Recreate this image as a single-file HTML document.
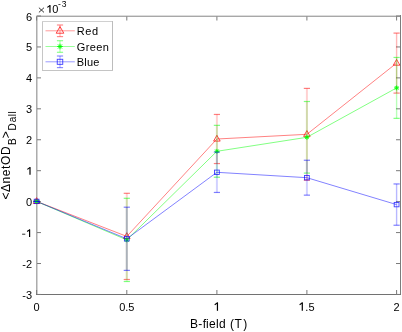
<!DOCTYPE html>
<html><head><meta charset="utf-8"><style>
html,body{margin:0;padding:0;background:#fff;width:402px;height:332px;overflow:hidden;}
svg{display:block;font-family:"Liberation Sans",sans-serif;will-change:transform;}
</style></head><body>
<svg width="402" height="332" viewBox="0 0 402 332">
<rect width="402" height="332" fill="#fff"/>
<rect x="36" y="15" width="1" height="280" fill="#acacac"/>
<rect x="37" y="16" width="1" height="278" fill="#d4d4d4"/>
<rect x="36" y="15" width="365" height="1" fill="#dcdcdc"/>
<rect x="36" y="16" width="365" height="1" fill="#a8a8a8"/>
<rect x="400" y="15" width="1" height="280" fill="#7c7c7c"/>
<rect x="36" y="294" width="365" height="1" fill="#727272"/>
<path d="M36.60,294v-4M36.60,16.5v4M126.80,294v-4M126.80,16.5v4M216.90,294v-4M216.90,16.5v4M306.90,294v-4M306.90,16.5v4M396.60,294v-4M396.60,16.5v4M37,294.46h4M400,294.46h-4M37,263.52h4M400,263.52h-4M37,232.58h4M400,232.58h-4M37,201.64h4M400,201.64h-4M37,170.70h4M400,170.70h-4M37,139.76h4M400,139.76h-4M37,108.82h4M400,108.82h-4M37,77.88h4M400,77.88h-4M37,46.94h4M400,46.94h-4M37,16.00h4M400,16.00h-4" stroke="#7a7a7a" stroke-width="1" fill="none"/>
<g><line x1="33.50" y1="201.40" x2="39.70" y2="201.40" stroke="rgba(255,0,0,0.5)" stroke-width="1.2"/><line x1="33.50" y1="201.40" x2="39.70" y2="201.40" stroke="rgba(255,0,0,0.5)" stroke-width="1.2"/><line x1="126.80" y1="193.30" x2="126.80" y2="279.50" stroke="rgba(255,0,0,0.18)" stroke-width="2"/><line x1="123.70" y1="193.30" x2="129.90" y2="193.30" stroke="rgba(255,0,0,0.5)" stroke-width="1.2"/><line x1="123.70" y1="279.50" x2="129.90" y2="279.50" stroke="rgba(255,0,0,0.5)" stroke-width="1.2"/><line x1="216.90" y1="114.45" x2="216.90" y2="163.55" stroke="rgba(255,0,0,0.18)" stroke-width="2"/><line x1="213.80" y1="114.45" x2="220.00" y2="114.45" stroke="rgba(255,0,0,0.5)" stroke-width="1.2"/><line x1="213.80" y1="163.55" x2="220.00" y2="163.55" stroke="rgba(255,0,0,0.5)" stroke-width="1.2"/><line x1="306.90" y1="88.40" x2="306.90" y2="180.20" stroke="rgba(255,0,0,0.18)" stroke-width="2"/><line x1="303.80" y1="88.40" x2="310.00" y2="88.40" stroke="rgba(255,0,0,0.5)" stroke-width="1.2"/><line x1="303.80" y1="180.20" x2="310.00" y2="180.20" stroke="rgba(255,0,0,0.5)" stroke-width="1.2"/><line x1="396.60" y1="33.10" x2="396.60" y2="93.10" stroke="rgba(255,0,0,0.28)" stroke-width="1.4"/><line x1="393.50" y1="33.10" x2="399.70" y2="33.10" stroke="rgba(255,0,0,0.5)" stroke-width="1.2"/><line x1="393.50" y1="93.10" x2="399.70" y2="93.10" stroke="rgba(255,0,0,0.5)" stroke-width="1.2"/><polyline points="36.60,201.40 126.80,236.40 216.90,139.00 306.90,134.30 396.60,63.10" fill="none" stroke="rgba(255,0,0,0.62)" stroke-width="0.8"/><path d="M36.60,197.70L39.90,203.50L33.30,203.50Z" fill="none" stroke="rgba(255,0,0,0.8)" stroke-width="0.9"/><path d="M126.80,232.70L130.10,238.50L123.50,238.50Z" fill="none" stroke="rgba(255,0,0,0.8)" stroke-width="0.9"/><path d="M216.90,135.30L220.20,141.10L213.60,141.10Z" fill="none" stroke="rgba(255,0,0,0.8)" stroke-width="0.9"/><path d="M306.90,130.60L310.20,136.40L303.60,136.40Z" fill="none" stroke="rgba(255,0,0,0.8)" stroke-width="0.9"/><path d="M396.60,59.40L399.90,65.20L393.30,65.20Z" fill="none" stroke="rgba(255,0,0,0.8)" stroke-width="0.9"/></g>
<g><line x1="33.50" y1="201.40" x2="39.70" y2="201.40" stroke="rgba(0,255,0,0.5)" stroke-width="1.2"/><line x1="33.50" y1="201.40" x2="39.70" y2="201.40" stroke="rgba(0,255,0,0.5)" stroke-width="1.2"/><line x1="126.80" y1="198.30" x2="126.80" y2="281.50" stroke="rgba(0,255,0,0.18)" stroke-width="2"/><line x1="123.70" y1="198.30" x2="129.90" y2="198.30" stroke="rgba(0,255,0,0.5)" stroke-width="1.2"/><line x1="123.70" y1="281.50" x2="129.90" y2="281.50" stroke="rgba(0,255,0,0.5)" stroke-width="1.2"/><line x1="216.90" y1="125.35" x2="216.90" y2="177.25" stroke="rgba(0,255,0,0.18)" stroke-width="2"/><line x1="213.80" y1="125.35" x2="220.00" y2="125.35" stroke="rgba(0,255,0,0.5)" stroke-width="1.2"/><line x1="213.80" y1="177.25" x2="220.00" y2="177.25" stroke="rgba(0,255,0,0.5)" stroke-width="1.2"/><line x1="306.90" y1="101.50" x2="306.90" y2="173.10" stroke="rgba(0,255,0,0.18)" stroke-width="2"/><line x1="303.80" y1="101.50" x2="310.00" y2="101.50" stroke="rgba(0,255,0,0.5)" stroke-width="1.2"/><line x1="303.80" y1="173.10" x2="310.00" y2="173.10" stroke="rgba(0,255,0,0.5)" stroke-width="1.2"/><line x1="396.60" y1="57.45" x2="396.60" y2="118.35" stroke="rgba(0,255,0,0.28)" stroke-width="1.4"/><line x1="393.50" y1="57.45" x2="399.70" y2="57.45" stroke="rgba(0,255,0,0.5)" stroke-width="1.2"/><line x1="393.50" y1="118.35" x2="399.70" y2="118.35" stroke="rgba(0,255,0,0.5)" stroke-width="1.2"/><polyline points="36.60,201.40 126.80,239.90 216.90,151.30 306.90,137.30 396.60,87.90" fill="none" stroke="rgba(0,255,0,0.62)" stroke-width="0.8"/><path d="M34.20,201.40h4.80M36.60,199.00v4.80M34.85,199.65l3.50,3.50M34.85,203.15l3.50,-3.50" stroke="rgba(0,255,0,0.95)" stroke-width="1"/><path d="M124.40,239.90h4.80M126.80,237.50v4.80M125.05,238.15l3.50,3.50M125.05,241.65l3.50,-3.50" stroke="rgba(0,255,0,0.95)" stroke-width="1"/><path d="M214.50,151.30h4.80M216.90,148.90v4.80M215.15,149.55l3.50,3.50M215.15,153.05l3.50,-3.50" stroke="rgba(0,255,0,0.95)" stroke-width="1"/><path d="M304.50,137.30h4.80M306.90,134.90v4.80M305.15,135.55l3.50,3.50M305.15,139.05l3.50,-3.50" stroke="rgba(0,255,0,0.95)" stroke-width="1"/><path d="M394.20,87.90h4.80M396.60,85.50v4.80M394.85,86.15l3.50,3.50M394.85,89.65l3.50,-3.50" stroke="rgba(0,255,0,0.95)" stroke-width="1"/></g>
<g><line x1="33.50" y1="201.40" x2="39.70" y2="201.40" stroke="rgba(0,0,255,0.5)" stroke-width="1.2"/><line x1="33.50" y1="201.40" x2="39.70" y2="201.40" stroke="rgba(0,0,255,0.5)" stroke-width="1.2"/><line x1="126.80" y1="207.20" x2="126.80" y2="270.40" stroke="rgba(0,0,255,0.18)" stroke-width="2"/><line x1="123.70" y1="207.20" x2="129.90" y2="207.20" stroke="rgba(0,0,255,0.5)" stroke-width="1.2"/><line x1="123.70" y1="270.40" x2="129.90" y2="270.40" stroke="rgba(0,0,255,0.5)" stroke-width="1.2"/><line x1="216.90" y1="152.15" x2="216.90" y2="192.45" stroke="rgba(0,0,255,0.18)" stroke-width="2"/><line x1="213.80" y1="152.15" x2="220.00" y2="152.15" stroke="rgba(0,0,255,0.5)" stroke-width="1.2"/><line x1="213.80" y1="192.45" x2="220.00" y2="192.45" stroke="rgba(0,0,255,0.5)" stroke-width="1.2"/><line x1="306.90" y1="160.25" x2="306.90" y2="195.15" stroke="rgba(0,0,255,0.18)" stroke-width="2"/><line x1="303.80" y1="160.25" x2="310.00" y2="160.25" stroke="rgba(0,0,255,0.5)" stroke-width="1.2"/><line x1="303.80" y1="195.15" x2="310.00" y2="195.15" stroke="rgba(0,0,255,0.5)" stroke-width="1.2"/><line x1="396.60" y1="183.95" x2="396.60" y2="225.25" stroke="rgba(0,0,255,0.28)" stroke-width="1.4"/><line x1="393.50" y1="183.95" x2="399.70" y2="183.95" stroke="rgba(0,0,255,0.5)" stroke-width="1.2"/><line x1="393.50" y1="225.25" x2="399.70" y2="225.25" stroke="rgba(0,0,255,0.5)" stroke-width="1.2"/><polyline points="36.60,201.40 126.80,238.80 216.90,172.30 306.90,177.70 396.60,204.60" fill="none" stroke="rgba(0,0,255,0.62)" stroke-width="0.8"/><rect x="34.20" y="199.20" width="4.80" height="4.40" fill="none" stroke="rgba(0,0,255,0.75)" stroke-width="0.9"/><rect x="124.40" y="236.60" width="4.80" height="4.40" fill="none" stroke="rgba(0,0,255,0.75)" stroke-width="0.9"/><rect x="214.50" y="170.10" width="4.80" height="4.40" fill="none" stroke="rgba(0,0,255,0.75)" stroke-width="0.9"/><rect x="304.50" y="175.50" width="4.80" height="4.40" fill="none" stroke="rgba(0,0,255,0.75)" stroke-width="0.9"/><rect x="394.20" y="202.40" width="4.80" height="4.40" fill="none" stroke="rgba(0,0,255,0.75)" stroke-width="0.9"/></g>
<text x="32.1" y="298.96" font-family="Liberation Sans, sans-serif" font-size="11" text-anchor="end" fill="#000">-3</text>
<text x="32.1" y="268.02" font-family="Liberation Sans, sans-serif" font-size="11" text-anchor="end" fill="#000">-2</text>
<path d="M29.60,229.40V237.00" stroke="#000" stroke-width="1.2" fill="none"/><path d="M29.80,229.70L27.10,231.50" stroke="#000" stroke-width="1.05" fill="none"/>
<rect x="22.1" y="233.7" width="3.2" height="1" fill="#333"/>
<text x="32.1" y="206.14" font-family="Liberation Sans, sans-serif" font-size="11" text-anchor="end" fill="#000">0</text>
<path d="M30.00,167.20V174.80" stroke="#000" stroke-width="1.2" fill="none"/><path d="M30.20,167.50L27.30,169.40" stroke="#000" stroke-width="1.05" fill="none"/>
<text x="32.1" y="144.26" font-family="Liberation Sans, sans-serif" font-size="11" text-anchor="end" fill="#000">2</text>
<text x="32.1" y="113.32" font-family="Liberation Sans, sans-serif" font-size="11" text-anchor="end" fill="#000">3</text>
<text x="32.1" y="82.38" font-family="Liberation Sans, sans-serif" font-size="11" text-anchor="end" fill="#000">4</text>
<text x="32.1" y="51.44" font-family="Liberation Sans, sans-serif" font-size="11" text-anchor="end" fill="#000">5</text>
<text x="32.1" y="20.50" font-family="Liberation Sans, sans-serif" font-size="11" text-anchor="end" fill="#000">6</text>
<text x="36.60" y="310.8" font-family="Liberation Sans, sans-serif" font-size="11" text-anchor="middle" fill="#000">0</text>
<text x="126.80" y="310.8" font-family="Liberation Sans, sans-serif" font-size="11" text-anchor="middle" fill="#000">0.5</text>
<path d="M217.45,302.50V310.80" stroke="#000" stroke-width="1.2" fill="none"/><path d="M217.65,302.80L214.70,304.70" stroke="#000" stroke-width="1.05" fill="none"/>
<path d="M302.30,302.50V310.80" stroke="#000" stroke-width="1.2" fill="none"/><path d="M302.50,302.80L299.60,304.70" stroke="#000" stroke-width="1.05" fill="none"/>
<text x="305.37" y="310.8" font-family="Liberation Sans, sans-serif" font-size="11" fill="#000">.5</text>
<text x="396.60" y="310.8" font-family="Liberation Sans, sans-serif" font-size="11" text-anchor="middle" fill="#000">2</text>
<path d="M38.9,7.7L44.0,12.4M38.9,12.4L44.0,7.7" stroke="#222" stroke-width="0.9" fill="none"/>
<path d="M49.95,5.20V12.70" stroke="#000" stroke-width="1.2" fill="none"/><path d="M50.15,5.50L47.30,7.40" stroke="#000" stroke-width="1.05" fill="none"/>
<text x="52.2" y="12.7" font-family="Liberation Sans, sans-serif" font-size="11" fill="#000">0</text>
<text x="58.0" y="7.2" font-family="Liberation Sans, sans-serif" font-size="8.5" fill="#000" textLength="8.6" lengthAdjust="spacing">-3</text>
<text x="190.0 198.3 202.7 205.9 209.0 216.1 219.1 225.8 230.1 234.5 243.2" y="327.6" font-family="Liberation Sans, sans-serif" font-size="12" fill="#000">B-field (T)</text>
<g transform="rotate(-90)">
<text x="-199.60 -192.00 -183.40 -176.20 -168.90 -165.00 -155.10" y="9.7" font-family="Liberation Sans, sans-serif" font-size="12" fill="#000">&lt;ΔnetOD</text>
<text x="-145.10" y="15.5" font-family="Liberation Sans, sans-serif" font-size="10" fill="#000">B</text>
<text x="-138.20" y="9.7" font-family="Liberation Sans, sans-serif" font-size="12" fill="#000">&gt;</text>
<text x="-130.40 -122.30 -116.20 -113.50" y="15.5" font-family="Liberation Sans, sans-serif" font-size="10" fill="#000">Dall</text>
</g>
<rect x="42" y="21" width="71" height="50" fill="#fff"/>
<rect x="42" y="21" width="1" height="50" fill="#c6c6c6"/>
<rect x="42" y="21" width="71" height="1" fill="#d0d0d0"/>
<rect x="42" y="22" width="71" height="0" fill="#e4e4e4"/>
<rect x="112" y="21" width="1" height="50" fill="#bcbcbc"/>
<rect x="42" y="70" width="71" height="1" fill="#c4c4c4"/>
<line x1="45.5" y1="30.8" x2="74.8" y2="30.8" stroke="rgba(255,0,0,0.4)" stroke-width="1"/>
<line x1="60" y1="25.00" x2="60" y2="36.60" stroke="rgba(255,0,0,0.3)" stroke-width="1.2"/>
<line x1="56.9" y1="25.00" x2="63.1" y2="25.00" stroke="rgba(255,0,0,0.45)" stroke-width="1.2"/>
<line x1="56.9" y1="36.60" x2="63.1" y2="36.60" stroke="rgba(255,0,0,0.45)" stroke-width="1.2"/>
<path d="M60.00,26.55L63.80,33.22L56.20,33.22Z" fill="none" stroke="rgba(255,0,0,0.8)" stroke-width="0.9"/>
<line x1="45.5" y1="46.5" x2="74.8" y2="46.5" stroke="rgba(0,255,0,0.4)" stroke-width="1"/>
<line x1="60" y1="40.70" x2="60" y2="52.30" stroke="rgba(0,255,0,0.3)" stroke-width="1.2"/>
<line x1="56.9" y1="40.70" x2="63.1" y2="40.70" stroke="rgba(0,255,0,0.45)" stroke-width="1.2"/>
<line x1="56.9" y1="52.30" x2="63.1" y2="52.30" stroke="rgba(0,255,0,0.45)" stroke-width="1.2"/>
<path d="M57.24,46.50h5.52M60.00,43.74v5.52M57.99,44.49l4.02,4.02M57.99,48.51l4.02,-4.02" stroke="rgba(0,255,0,0.95)" stroke-width="1"/>
<line x1="45.5" y1="61.8" x2="74.8" y2="61.8" stroke="rgba(0,0,255,0.4)" stroke-width="1"/>
<line x1="60" y1="56.00" x2="60" y2="67.60" stroke="rgba(0,0,255,0.3)" stroke-width="1.2"/>
<line x1="56.9" y1="56.00" x2="63.1" y2="56.00" stroke="rgba(0,0,255,0.45)" stroke-width="1.2"/>
<line x1="56.9" y1="67.60" x2="63.1" y2="67.60" stroke="rgba(0,0,255,0.45)" stroke-width="1.2"/>
<rect x="57.24" y="59.27" width="5.52" height="5.06" fill="none" stroke="rgba(0,0,255,0.75)" stroke-width="0.9"/>
<text x="76.7" y="35.2" font-family="Liberation Sans, sans-serif" font-size="11" fill="#000" textLength="21.4" lengthAdjust="spacing">Red</text>
<text x="76.7" y="50.8" font-family="Liberation Sans, sans-serif" font-size="11" fill="#000" textLength="32.1" lengthAdjust="spacing">Green</text>
<text x="76.7" y="65.9" font-family="Liberation Sans, sans-serif" font-size="11" fill="#000" textLength="22.7" lengthAdjust="spacing">Blue</text>
</svg>
</body></html>
